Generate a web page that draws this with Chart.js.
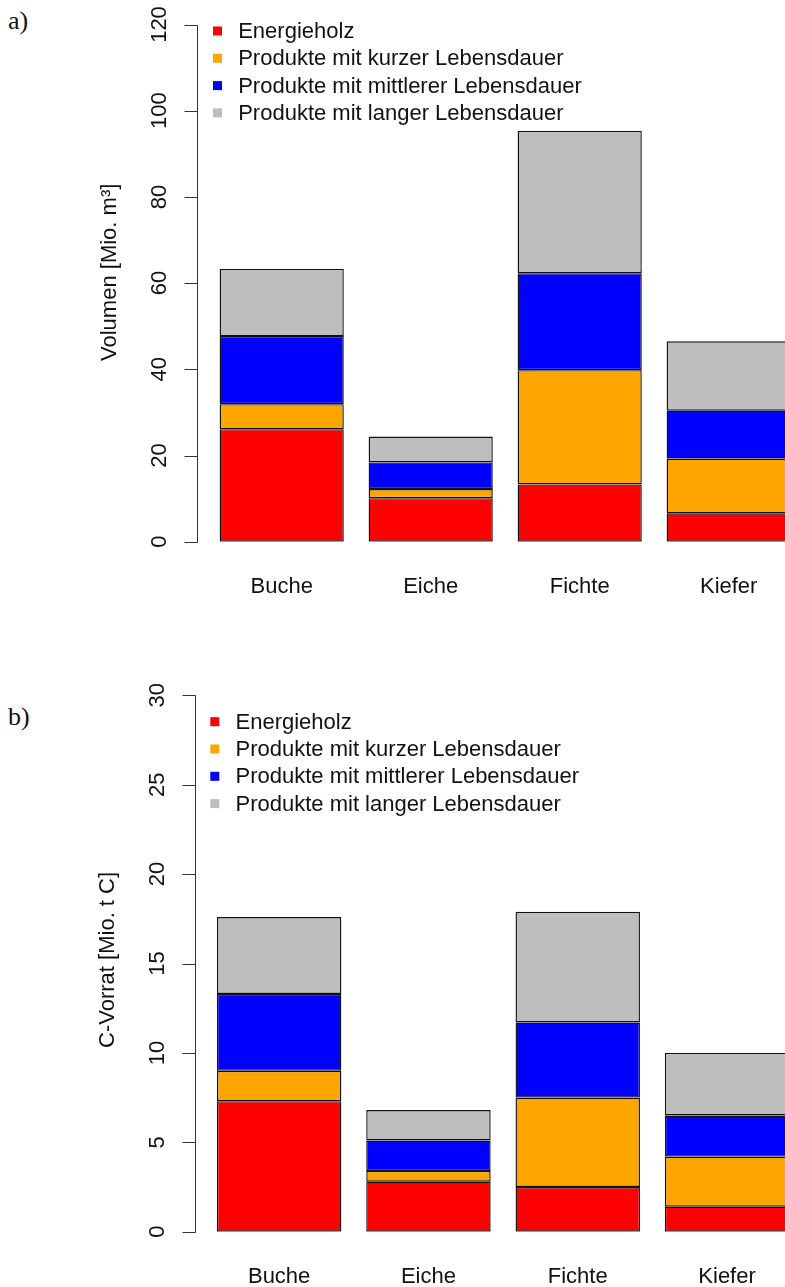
<!DOCTYPE html>
<html lang="de">
<head>
    <meta charset="UTF-8">
    <meta name="viewport" content="width=device-width, initial-scale=1.0">
    <title>Holzprodukte</title>
    <script src="https://cdn.jsdelivr.net/npm/chart.js"></script>
    <style>
        body {
            margin: 0;
            background: #fff;
            width: 785px;
            height: 1287px;
            overflow: hidden;
            position: relative;
            font-family: "Liberation Sans", Arial, sans-serif;
        }

        .panel-tag {
            position: absolute;
            left: 8px;
            font-family: "Liberation Serif", "DejaVu Serif", serif;
            font-size: 26px;
            color: #111;
        }

        canvas {
            position: absolute;
            left: 0;
        }
    </style>
</head>
<body>
    <div class="panel-tag" style="top:6px">a)</div>
    <canvas id="chartA" width="830" height="620" style="top:0"></canvas>

    <div class="panel-tag" style="top:702px">b)</div>
    <canvas id="chartB" width="830" height="647" style="top:640px"></canvas>

    <script>
        const categories = ['Buche', 'Eiche', 'Fichte', 'Kiefer'];
        const seriesNames = [
            'Energieholz',
            'Produkte mit kurzer Lebensdauer',
            'Produkte mit mittlerer Lebensdauer',
            'Produkte mit langer Lebensdauer'
        ];
        const colors = ['#ff0000', '#ffa500', '#0000ff', '#bebebe'];

        // a) Volumen [Mio. m³]
        const volEnergie = [26.1, 10.1, 13.3, 6.6];
        const volKurz = [5.8, 2.1, 26.5, 12.7];
        const volMittel = [15.8, 6.2, 22.5, 11.1];
        const volLang = [15.6, 6.0, 33.0, 16.1];
        const volTicks = [0, 20, 40, 60, 80, 100, 120];

        // b) C-Vorrat [Mio. t C]
        const cEnergie = [7.3, 2.8, 2.5, 1.4];
        const cKurz = [1.7, 0.6, 5.0, 2.8];
        const cMittel = [4.3, 1.7, 4.2, 2.3];
        const cLang = [4.3, 1.7, 6.2, 3.5];
        const cTicks = [0, 5, 10, 15, 20, 25, 30];

        const FONT = '22px "Liberation Sans", Arial, sans-serif';

        // R-style y axis (rotated labels, detached line) plus the legend in the top left
        const rAxis = {
            id: 'rAxis',
            afterDraw(chart, args, opts) {
                const ctx = chart.ctx;
                const y = chart.scales.y;
                const area = chart.chartArea;
                const x0 = Math.round(area.left - opts.gap) + 0.5;

                ctx.save();
                ctx.strokeStyle = '#333';
                ctx.lineWidth = 1;
                ctx.beginPath();
                ctx.moveTo(x0, Math.round(y.getPixelForValue(opts.ticks[0])) + 0.5);
                ctx.lineTo(x0, Math.round(y.getPixelForValue(opts.ticks[opts.ticks.length - 1])) + 0.5);
                opts.ticks.forEach(t => {
                    const py = Math.round(y.getPixelForValue(t)) + 0.5;
                    ctx.moveTo(x0, py);
                    ctx.lineTo(x0 - 13, py);
                });
                ctx.stroke();

                ctx.fillStyle = '#111';
                ctx.font = FONT;
                ctx.textAlign = 'center';
                ctx.textBaseline = 'middle';
                opts.ticks.forEach(t => {
                    ctx.save();
                    ctx.translate(x0 - 38, y.getPixelForValue(t));
                    ctx.rotate(-Math.PI / 2);
                    ctx.fillText(String(t), 0, 0);
                    ctx.restore();
                });

                ctx.save();
                ctx.translate(x0 - 88, y.getPixelForValue(opts.titleAt));
                ctx.rotate(-Math.PI / 2);
                ctx.fillText(opts.title, 0, 0);
                ctx.restore();

                // legend
                ctx.textAlign = 'left';
                chart.data.datasets.forEach((ds, i) => {
                    const cy = area.top + opts.legendTop + i * opts.legendStep;
                    ctx.fillStyle = ds.backgroundColor;
                    ctx.fillRect(area.left + opts.legendBox - 4.5, cy - 4.5, 9, 9);
                    ctx.fillStyle = '#111';
                    ctx.fillText(ds.label, area.left + opts.legendText, cy + 1);
                });
                ctx.restore();
            }
        };

        const makeChart = (id, sets, ticks, opt) => {
            return new Chart(document.getElementById(id), {
                type: 'bar',
                data: {
                    labels: categories,
                    datasets: sets.map((d, i) => ({
                        label: seriesNames[i],
                        data: d,
                        backgroundColor: colors[i],
                        borderColor: '#111',
                        borderWidth: 1.4,
                        borderSkipped: false,
                        barPercentage: 1 / 1.2,
                        categoryPercentage: 1
                    }))
                },
                options: {
                    responsive: false,
                    animation: false,
                    devicePixelRatio: 1,
                    layout: { padding: opt.padding },
                    plugins: {
                        legend: { display: false },
                        tooltip: { enabled: false },
                        rAxis: {
                            ticks: ticks,
                            gap: opt.gap,
                            title: opt.title,
                            titleAt: opt.titleAt,
                            legendTop: opt.legendTop,
                            legendStep: 27.3,
                            legendBox: 10.3,
                            legendText: 31
                        }
                    },
                    scales: {
                        x: {
                            stacked: true,
                            offset: true,
                            grid: { display: false, drawTicks: false },
                            border: { display: false },
                            ticks: {
                                color: '#111',
                                font: { size: 22, family: '"Liberation Sans", Arial, sans-serif' },
                                padding: 32,
                                maxRotation: 0,
                                autoSkip: false
                            },
                            afterFit: s => { s.height = opt.axisH; }
                        },
                        y: {
                            stacked: true,
                            display: false,
                            min: 0,
                            max: ticks[ticks.length - 1]
                        }
                    }
                },
                plugins: [rAxis]
            });
        };

        makeChart('chartA', [volEnergie, volKurz, volMittel, volLang], volTicks, {
            padding: { left: 207.2, right: 26.8, top: 24.5, bottom: 0 },
            axisH: 78.3,
            gap: 10,
            title: 'Volumen [Mio. m³]',
            titleAt: 62.5,
            legendTop: 6.5
        });

        makeChart('chartB', [cEnergie, cKurz, cMittel, cLang], cTicks, {
            padding: { left: 204.5, right: 28.3, top: 55.3, bottom: 0 },
            axisH: 55.3,
            gap: 10,
            title: 'C-Vorrat [Mio. t C]',
            titleAt: 15.2,
            legendTop: 26.4
        });
    </script>
</body>
</html>
